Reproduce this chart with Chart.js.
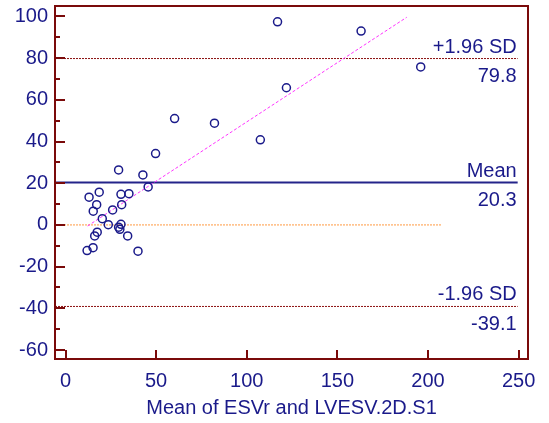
<!DOCTYPE html>
<html>
<head>
<meta charset="utf-8">
<script src="https://cdn.jsdelivr.net/npm/chart.js@4.4.1/dist/chart.umd.min.js"></script>
<style>
  html, body { margin: 0; padding: 0; background: white; }
  canvas { display: block; }
</style>
</head>
<body>
<canvas id="myChart" width="549" height="423"></canvas>
<script>
// mean of the two methods (x) and their difference (y)
const meanValues = [117.0, 163.1, 196.0, 121.9, 60.2, 82.2, 107.5, 49.7, 29.3, 42.7,
  45.6, 18.6, 13.0, 30.6, 35.0, 17.2, 31.0, 15.3, 26.0, 20.3,
  23.6, 30.6, 29.3, 30.0, 17.5, 16.1, 34.3, 11.9, 15.2, 40.0];
const diffValues = [97.4, 93.0, 75.8, 65.8, 51.0, 48.8, 40.8, 34.2, 26.4, 24.0,
  18.2, 15.7, 13.3, 14.7, 15.0, 9.7, 9.7, 6.6, 7.2, 3.0,
  0.1, 0.3, -1.1, -2.1, -3.5, -5.3, -5.3, -12.3, -10.9, -12.6];

const limitLabels = ['+1.96 SD', 'Mean', '-1.96 SD'];
const limitValues = [79.8, 20.3, -39.1];

// regression of differences on means
const regX = [12.2, 188.3];
const regY = [-0.5, 99.6];

const xTicks = [0, 50, 100, 150, 200, 250];
const yTicks = [-60, -40, -20, 0, 20, 40, 60, 80, 100];

const xMin = -5.8, xMax = 255.2;
const yMin = -64.3, yMax = 105;
const limitEnd = 249.5;
const zeroEnd = 207.5;

const navy = '#1a1a8a';
const axisColor = '#7a0a0a';
const font = { family: '"Liberation Sans", Arial, sans-serif', size: 20 };

function hline(v, end) {
  return [{ x: xMin, y: v }, { x: end, y: v }];
}

const framePlugin = {
  id: 'frame',
  afterDatasetsDraw(chart) {
    const { ctx, chartArea: a, scales: { x, y } } = chart;
    ctx.save();
    ctx.strokeStyle = axisColor;
    ctx.lineWidth = 2;
    ctx.strokeRect(a.left, a.top, a.right - a.left, a.bottom - a.top);

    // inward tick marks
    ctx.beginPath();
    yTicks.forEach((v, i) => {
      const py = Math.round(y.getPixelForValue(v));
      ctx.moveTo(a.left, py);
      ctx.lineTo(a.left + 10, py);
      if (i < yTicks.length - 1) {
        const pm = Math.round(y.getPixelForValue((v + yTicks[i + 1]) / 2));
        ctx.moveTo(a.left, pm);
        ctx.lineTo(a.left + 5, pm);
      }
    });
    xTicks.forEach(v => {
      const px = Math.round(x.getPixelForValue(v));
      ctx.moveTo(px, a.bottom);
      ctx.lineTo(px, a.bottom - 9);
    });
    ctx.stroke();

    // limit labels
    ctx.fillStyle = navy;
    ctx.font = font.size + 'px ' + font.family;
    ctx.textAlign = 'right';
    ctx.textBaseline = 'alphabetic';
    limitValues.forEach((v, i) => {
      const px = x.getPixelForValue(limitEnd) - 1;
      const py = y.getPixelForValue(v);
      ctx.fillText(limitLabels[i], px, py - 6);
      ctx.fillText(v.toFixed(1), px, py + 23.5);
    });
    ctx.restore();
  }
};

new Chart(document.getElementById('myChart').getContext('2d'), {
  type: 'scatter',
  data: {
    datasets: [
      {
        label: 'Differences',
        data: meanValues.map((m, i) => ({ x: m, y: diffValues[i] })),
        pointStyle: 'circle',
        pointRadius: 4,
        borderWidth: 1.5,
        borderColor: navy,
        backgroundColor: 'rgba(0,0,0,0)',
        showLine: false
      },
      {
        type: 'line',
        data: regX.map((v, i) => ({ x: v, y: regY[i] })),
        borderColor: '#ff33ff',
        borderWidth: 1,
        borderDash: [3, 2],
        pointRadius: 0
      },
      {
        type: 'line',
        data: hline(limitValues[1], limitEnd),
        borderColor: '#24248a',
        borderWidth: 2,
        pointRadius: 0
      },
      {
        type: 'line',
        data: hline(limitValues[0], limitEnd),
        borderColor: '#8b1010',
        borderWidth: 1,
        borderDash: [2, 1],
        pointRadius: 0
      },
      {
        type: 'line',
        data: hline(limitValues[2], limitEnd),
        borderColor: '#8b1010',
        borderWidth: 1,
        borderDash: [2, 1],
        pointRadius: 0
      },
      {
        type: 'line',
        data: hline(0, zeroEnd),
        borderColor: '#ff9940',
        borderWidth: 1,
        borderDash: [2, 1],
        pointRadius: 0
      }
    ]
  },
  options: {
    responsive: false,
    animation: false,
    layout: { padding: { top: 6, right: 21, left: 0, bottom: 0 } },
    plugins: { legend: { display: false }, tooltip: { enabled: false } },
    scales: {
      x: {
        type: 'linear',
        min: xMin,
        max: xMax,
        grid: { display: false, drawTicks: false },
        border: { display: false },
        afterBuildTicks: s => { s.ticks = xTicks.map(v => ({ value: v })); },
        afterFit: s => { s.height = 64; s.paddingLeft = 0; s.paddingRight = 0; },
        ticks: { color: navy, font: font, padding: 10, maxRotation: 0 },
        title: {
          display: true,
          text: 'Mean of ESVr and LVESV.2D.S1',
          color: navy,
          font: font,
          padding: { top: 0, bottom: 3 }
        }
      },
      y: {
        type: 'linear',
        min: yMin,
        max: yMax,
        grid: { display: false, drawTicks: false },
        border: { display: false },
        afterBuildTicks: s => { s.ticks = yTicks.map(v => ({ value: v })); },
        afterFit: s => { s.width = 55; s.paddingTop = 0; s.paddingBottom = 0; },
        ticks: { color: navy, font: font, padding: 7 }
      }
    }
  },
  plugins: [framePlugin]
});
</script>
</body>
</html>
